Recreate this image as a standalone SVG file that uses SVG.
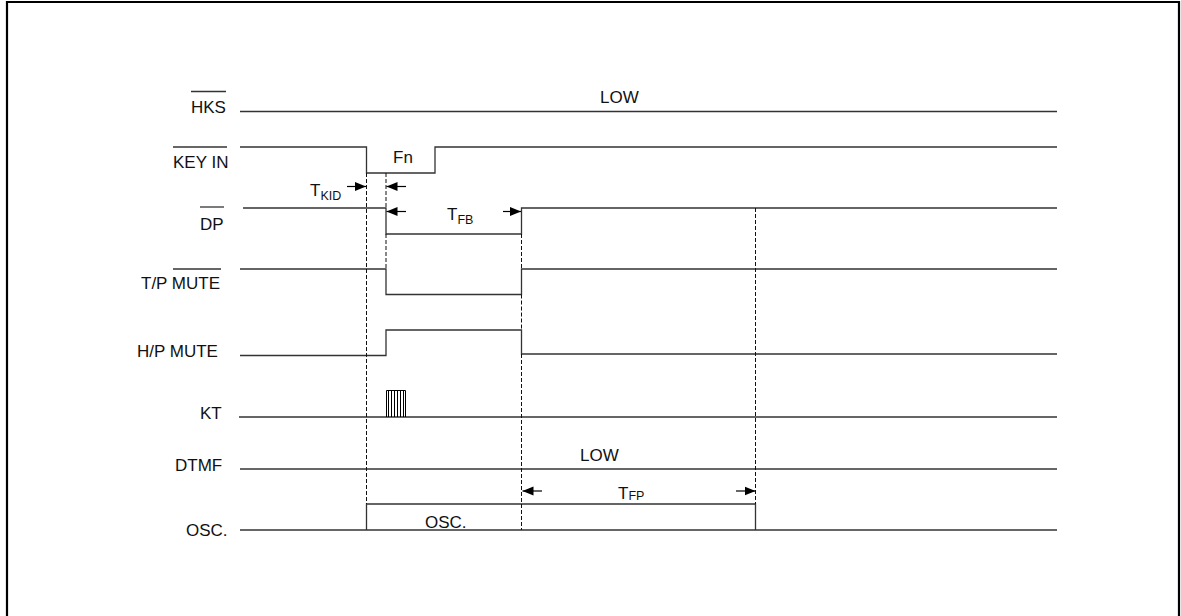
<svg xmlns="http://www.w3.org/2000/svg" width="1181" height="616" viewBox="0 0 1181 616">
<style>
.sig{fill:none;stroke:#333;stroke-width:1.3}
.dash{fill:none;stroke:#111;stroke-width:1;stroke-dasharray:4 2}
.dim{fill:none;stroke:#000;stroke-width:1.2}
.bar{stroke:#333;stroke-width:1.3}
.hatch{stroke:#000;stroke-width:1}
text{font-family:"Liberation Sans",Arial,sans-serif;font-size:17px;fill:#111}
.sub{font-size:12.5px}
</style>
<defs>
<marker id="ah" markerWidth="12" markerHeight="10" refX="11" refY="5" orient="auto" markerUnits="userSpaceOnUse">
<path d="M0,0.5 L11,5 L0,9.5 Z" fill="#000"/>
</marker>
</defs>
<rect width="1181" height="616" fill="#fff"/>
<path d="M7,620 V2 H1179 V620" fill="none" stroke="#000" stroke-width="2.2"/>

<g id="labels">
<text x="191" y="113">HKS</text><line class="bar" x1="191" y1="91.5" x2="226" y2="91.5"/>
<text x="173" y="168">KEY IN</text><line class="bar" x1="173" y1="147" x2="227" y2="147"/>
<text x="200" y="230">DP</text><line class="bar" x1="200" y1="207" x2="224" y2="207"/>
<text x="141" y="289">T/P MUTE</text><line class="bar" x1="173" y1="269" x2="221" y2="269"/>
<text x="137" y="357">H/P MUTE</text>
<text x="200" y="419">KT</text>
<text x="175" y="471">DTMF</text>
<text x="186" y="536">OSC.</text>
</g>

<g id="signal-hks">
<line class="sig" x1="240" y1="111.5" x2="1057" y2="111.5"/>
<text x="600" y="103">LOW</text>
</g>

<g id="signal-keyin">
<path class="sig" d="M240,147 H366.5 V173 H435 V147 H1057"/>
<text x="393" y="163">Fn</text>
</g>

<g id="signal-dp">
<path class="sig" d="M243,208 H386 V234 H521.5 V208 H1057"/>
</g>

<g id="signal-tpmute">
<path class="sig" d="M240,269 H386 V294.5 H521.5 V269 H1057"/>
</g>

<g id="signal-hpmute">
<path class="sig" d="M240,355.5 H386 V330 H521.5 V354 H1057"/>
</g>

<g id="signal-kt">
<line class="sig" x1="239" y1="417" x2="1057" y2="417"/>
<g class="hatch">
<line x1="386.5" y1="390.5" x2="405.5" y2="390.5"/>
<line x1="386.5" y1="390.5" x2="386.5" y2="417"/>
<line x1="388.5" y1="390.5" x2="388.5" y2="417"/>
<line x1="391.5" y1="390.5" x2="391.5" y2="417"/>
<line x1="394.5" y1="390.5" x2="394.5" y2="417"/>
<line x1="397.5" y1="390.5" x2="397.5" y2="417"/>
<line x1="400.5" y1="390.5" x2="400.5" y2="417"/>
<line x1="403.5" y1="390.5" x2="403.5" y2="417"/>
<line x1="405.5" y1="390.5" x2="405.5" y2="417"/>
</g>
</g>

<g id="signal-dtmf">
<line class="sig" x1="240" y1="469" x2="1057" y2="469"/>
<text x="580" y="461">LOW</text>
</g>

<g id="signal-osc">
<line class="sig" x1="240" y1="530" x2="1057" y2="530"/>
<path class="sig" d="M366.5,530 V504 H755.5 V530"/>
<text x="425" y="528">OSC.</text>
</g>

<g id="connectors">
<line class="dash" x1="366.5" y1="173" x2="366.5" y2="504"/>
<line class="dash" x1="386" y1="173" x2="386" y2="208"/>
<line class="dash" x1="386" y1="234" x2="386" y2="269"/>
<line class="dash" x1="521.5" y1="234" x2="521.5" y2="269"/>
<line class="dash" x1="521.5" y1="294.5" x2="521.5" y2="330"/>
<line class="dash" x1="521.5" y1="354" x2="521.5" y2="530"/>
<line class="dash" x1="755.5" y1="208" x2="755.5" y2="504"/>

<line class="dim" x1="347" y1="186.5" x2="366" y2="186.5" marker-end="url(#ah)"/>
<line class="dim" x1="406" y1="186.5" x2="386.5" y2="186.5" marker-end="url(#ah)"/>
<line class="dim" x1="406" y1="211.5" x2="386.5" y2="211.5" marker-end="url(#ah)"/>
<line class="dim" x1="503" y1="211.5" x2="521" y2="211.5" marker-end="url(#ah)"/>
<line class="dim" x1="542" y1="491" x2="522.5" y2="491" marker-end="url(#ah)"/>
<line class="dim" x1="736" y1="491" x2="755.5" y2="491" marker-end="url(#ah)"/>
</g>

<g id="timing-labels">
<text x="310" y="196">T<tspan class="sub" dy="4">KID</tspan></text>
<text x="447" y="220">T<tspan class="sub" dy="4">FB</tspan></text>
<text x="618" y="499">T<tspan class="sub" dy="1">FP</tspan></text>
</g>
</svg>
